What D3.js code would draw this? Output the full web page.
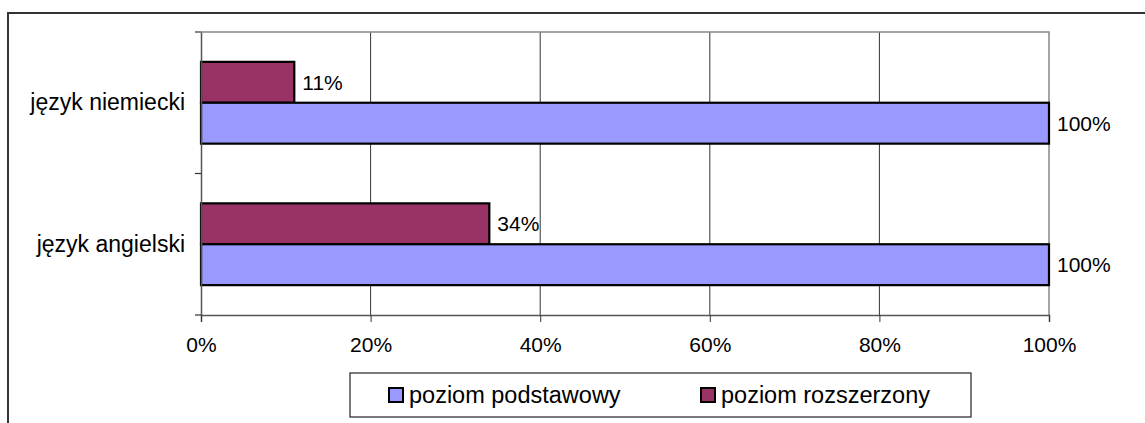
<!DOCTYPE html>
<html>
<head>
<meta charset="utf-8">
<script src="https://cdn.jsdelivr.net/npm/d3@7"></script>
<style>
  body { margin: 0; background: #fff; }
  svg { display: block; font-family: "Liberation Sans", Arial, sans-serif; }
</style>
</head>
<body>
<svg width="1145" height="423"></svg>
<script>
// data
let categories = ["język niemiecki", "język angielski"];
let seriesNames = ["poziom rozszerzony", "poziom podstawowy"];
let rozszerzony = [0.11, 0.34];
let podstawowy = [1.00, 1.00];
let xTicks = [0, 0.2, 0.4, 0.6, 0.8, 1.0];
let legendOrder = ["poziom podstawowy", "poziom rozszerzony"];

let colors = {"poziom podstawowy": "#9999ff", "poziom rozszerzony": "#993366"};

let svg = d3.select("svg");
let fontSize = 21;
let catFontSize = 23;
let legendFontSize = 23.5;

// outer frame
svg.append("rect")
    .attr("x", 8).attr("y", 13)
    .attr("width", 1200).attr("height", 500)
    .attr("fill", "none")
    .attr("stroke", "#333")
    .attr("stroke-width", 2);

let x = d3.scaleLinear().domain([0, 1]).range([201, 1049]);
let y = d3.scaleBand().domain(categories).range([32, 315]);
let ySub = d3.scaleBand().domain(seriesNames).range([0, y.bandwidth()]).paddingOuter(0.73);

let rows = categories.map((c, i) => ({
    cat: c,
    values: [
        {name: "poziom rozszerzony", v: rozszerzony[i]},
        {name: "poziom podstawowy", v: podstawowy[i]}
    ]
}));

// gridlines
svg.append("g")
    .selectAll("line")
    .data(xTicks.slice(1, -1))
    .enter().append("line")
    .attr("x1", d => x(d)).attr("x2", d => x(d))
    .attr("y1", 32).attr("y2", 315)
    .attr("stroke", "#000")
    .attr("stroke-width", 0.8);

// plot area border top/right
svg.append("path")
    .attr("d", `M${x(0)},${y.range()[0]}H${x(1)}V${y.range()[1]}`)
    .attr("fill", "none")
    .attr("stroke", "#888")
    .attr("stroke-width", 1.5);

// bars
let groups = svg.append("g")
    .selectAll("g")
    .data(rows)
    .enter().append("g")
    .attr("transform", d => `translate(0,${y(d.cat)})`);

groups.selectAll("rect")
    .data(d => d.values)
    .enter().append("rect")
    .attr("x", x(0))
    .attr("y", d => ySub(d.name))
    .attr("width", d => x(d.v) - x(0))
    .attr("height", ySub.bandwidth())
    .attr("fill", d => colors[d.name])
    .attr("stroke", "#000")
    .attr("stroke-width", 2.2);

groups.selectAll("text")
    .data(d => d.values)
    .enter().append("text")
    .attr("x", d => x(d.v) + 8)
    .attr("y", d => ySub(d.name) + ySub.bandwidth() / 2)
    .attr("dy", "0.35em")
    .attr("font-size", fontSize)
    .text(d => d3.format(".0%")(d.v));

// x axis
let xAxis = svg.append("g")
    .attr("transform", `translate(0,${y.range()[1]})`)
    .call(d3.axisBottom(x).tickValues(xTicks).tickFormat(d3.format(".0%")).tickSizeOuter(0).tickSize(7).tickPadding(15));
xAxis.select(".domain").attr("stroke", "#555").attr("stroke-width", 1.5);
xAxis.selectAll(".tick line").attr("stroke", "#333");
xAxis.selectAll("text").attr("font-size", fontSize).attr("font-family", null).attr("fill", "#000");

// y axis
let yAxis = svg.append("g")
    .attr("transform", `translate(${x(0)},0)`)
    .call(d3.axisLeft(y).tickSize(0).tickPadding(16).tickSizeOuter(0));
yAxis.select(".domain").attr("stroke", "#555").attr("stroke-width", 1.5);
yAxis.selectAll("text").attr("font-size", catFontSize).attr("font-family", null).attr("fill", "#000");

// category separator ticks
svg.append("g")
    .selectAll("line")
    .data(categories.map(c => y(c)).concat([y.range()[1]]))
    .enter().append("line")
    .attr("x1", x(0) - 6).attr("x2", x(0))
    .attr("y1", d => d).attr("y2", d => d)
    .attr("stroke", "#333")
    .attr("stroke-width", 1.2);

// legend
let legend = svg.append("g").attr("transform", "translate(350,373)");
legend.append("rect")
    .attr("width", 621).attr("height", 44)
    .attr("fill", "#fff")
    .attr("stroke", "#222")
    .attr("stroke-width", 1.2);
let legendX = [39, 351];
let items = legend.selectAll("g.item")
    .data(legendOrder)
    .enter().append("g")
    .attr("class", "item")
    .attr("transform", (d, i) => `translate(${legendX[i]},15)`);
items.append("rect")
    .attr("width", 14).attr("height", 14)
    .attr("fill", d => colors[d])
    .attr("stroke", "#000")
    .attr("stroke-width", 2);
items.append("text")
    .attr("x", 20).attr("y", 7)
    .attr("dy", "0.35em")
    .attr("font-size", legendFontSize)
    .text(d => d);
</script>
</body>
</html>
